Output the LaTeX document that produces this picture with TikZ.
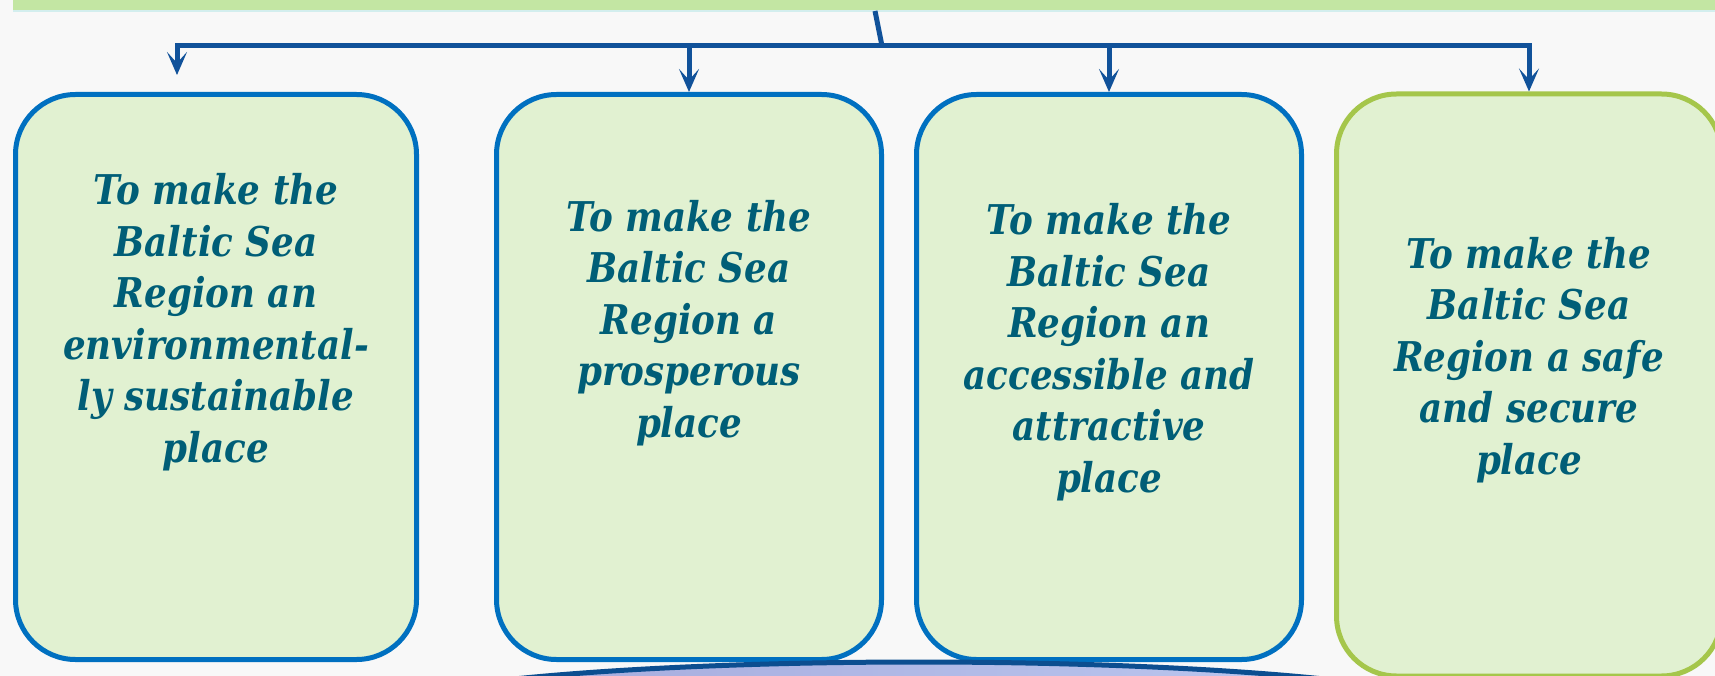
\documentclass[tikz,border=0pt]{standalone}
\usepackage{fontspec}
\setmainfont{DejaVu Serif}
\newfontfamily\boxfont[FakeStretch=0.87]{DejaVu Serif}
\usetikzlibrary{arrows.meta,calc,shapes.geometric}
\definecolor{bgc}{HTML}{F8F8F8}
\definecolor{barc}{HTML}{C3E6A3}
\definecolor{baredge}{HTML}{D3EEEE}
\definecolor{linec}{HTML}{11529A}
\definecolor{boxblue}{HTML}{0070C0}
\definecolor{boxgreen}{HTML}{A5C64B}
\definecolor{boxfill}{HTML}{E1F1D1}
\definecolor{txtc}{HTML}{005E77}
\definecolor{ellb}{HTML}{0C4E90}
\definecolor{ellL}{HTML}{A3A7DA}
\definecolor{ellM}{HTML}{CACDF9}
\definecolor{ellR}{HTML}{BECBF2}
\tikzset{
  goalbox/.style={draw=boxblue, line width=5pt, fill=boxfill, rounded corners=60pt, inner sep=0pt},
  goalboxg/.style={goalbox, draw=boxgreen},
  goaltext/.style={align=center, text=txtc, inner sep=0pt,
     font=\boxfont\bfseries\itshape\fontsize{41}{51.5}\selectfont},
  conn/.style={draw=linec, line width=5pt},
  arr/.style={conn, -{Stealth[length=23pt,width=20pt,inset=11pt]}},
}
\begin{document}
\begin{tikzpicture}[x=1pt,y=-1pt]
\useasboundingbox (0,0) rectangle (1715,676);
\clip (0,0) rectangle (1715,676);
\fill[bgc] (0,0) rectangle (1715,676);
% top bar
\node[fill=barc, anchor=south west, minimum width=1720pt, minimum height=40pt, inner sep=0pt, outer sep=0pt] (bar) at (13,11) {};
\draw[baredge, line width=1.5pt] (bar.south west) -- (bar.south east);
% boxes
\node[goalbox, minimum width=401pt, minimum height=565pt] (b1) at (216,377) {};
\node[goalbox, minimum width=385pt, minimum height=565pt] (b2) at (689,377) {};
\node[goalbox, minimum width=385pt, minimum height=565pt] (b3) at (1109,377) {};
\node[goalboxg, minimum width=385pt, minimum height=582pt] (b4) at (1529,385) {};
% texts
\node[goaltext] (t1) at (216,322) {To make the\\Baltic Sea\\Region an\\environmental-\\ly sustainable\\place};
\node[goaltext] (t2) at (689,323) {To make the\\Baltic Sea\\Region a\\prosperous\\place};
\node[goaltext] (t3) at (1109,352) {To make the\\Baltic Sea\\Region an\\accessible and\\attractive\\place};
\node[goaltext] (t4) at (1529,360) {To make the\\Baltic Sea\\Region a safe\\and secure\\place};
% connectors
\coordinate (c0) at (875,11);
\coordinate (hub) at (882,46);
\coordinate (a1) at (177,75);
\draw[conn] (c0) -- (hub);
\draw[arr] (hub) -| (a1);
\draw[arr] (hub) -| (b2.north);
\draw[arr] (hub) -| (b3.north);
\draw[arr] (hub) -| (b4.north);
% bottom ellipse
\node[ellipse, draw=ellb, line width=5pt, left color=ellL, middle color=ellM, right color=ellR, minimum width=1120pt, minimum height=110pt, inner sep=0pt] (base) at (919,717) {};
\end{tikzpicture}
\end{document}
